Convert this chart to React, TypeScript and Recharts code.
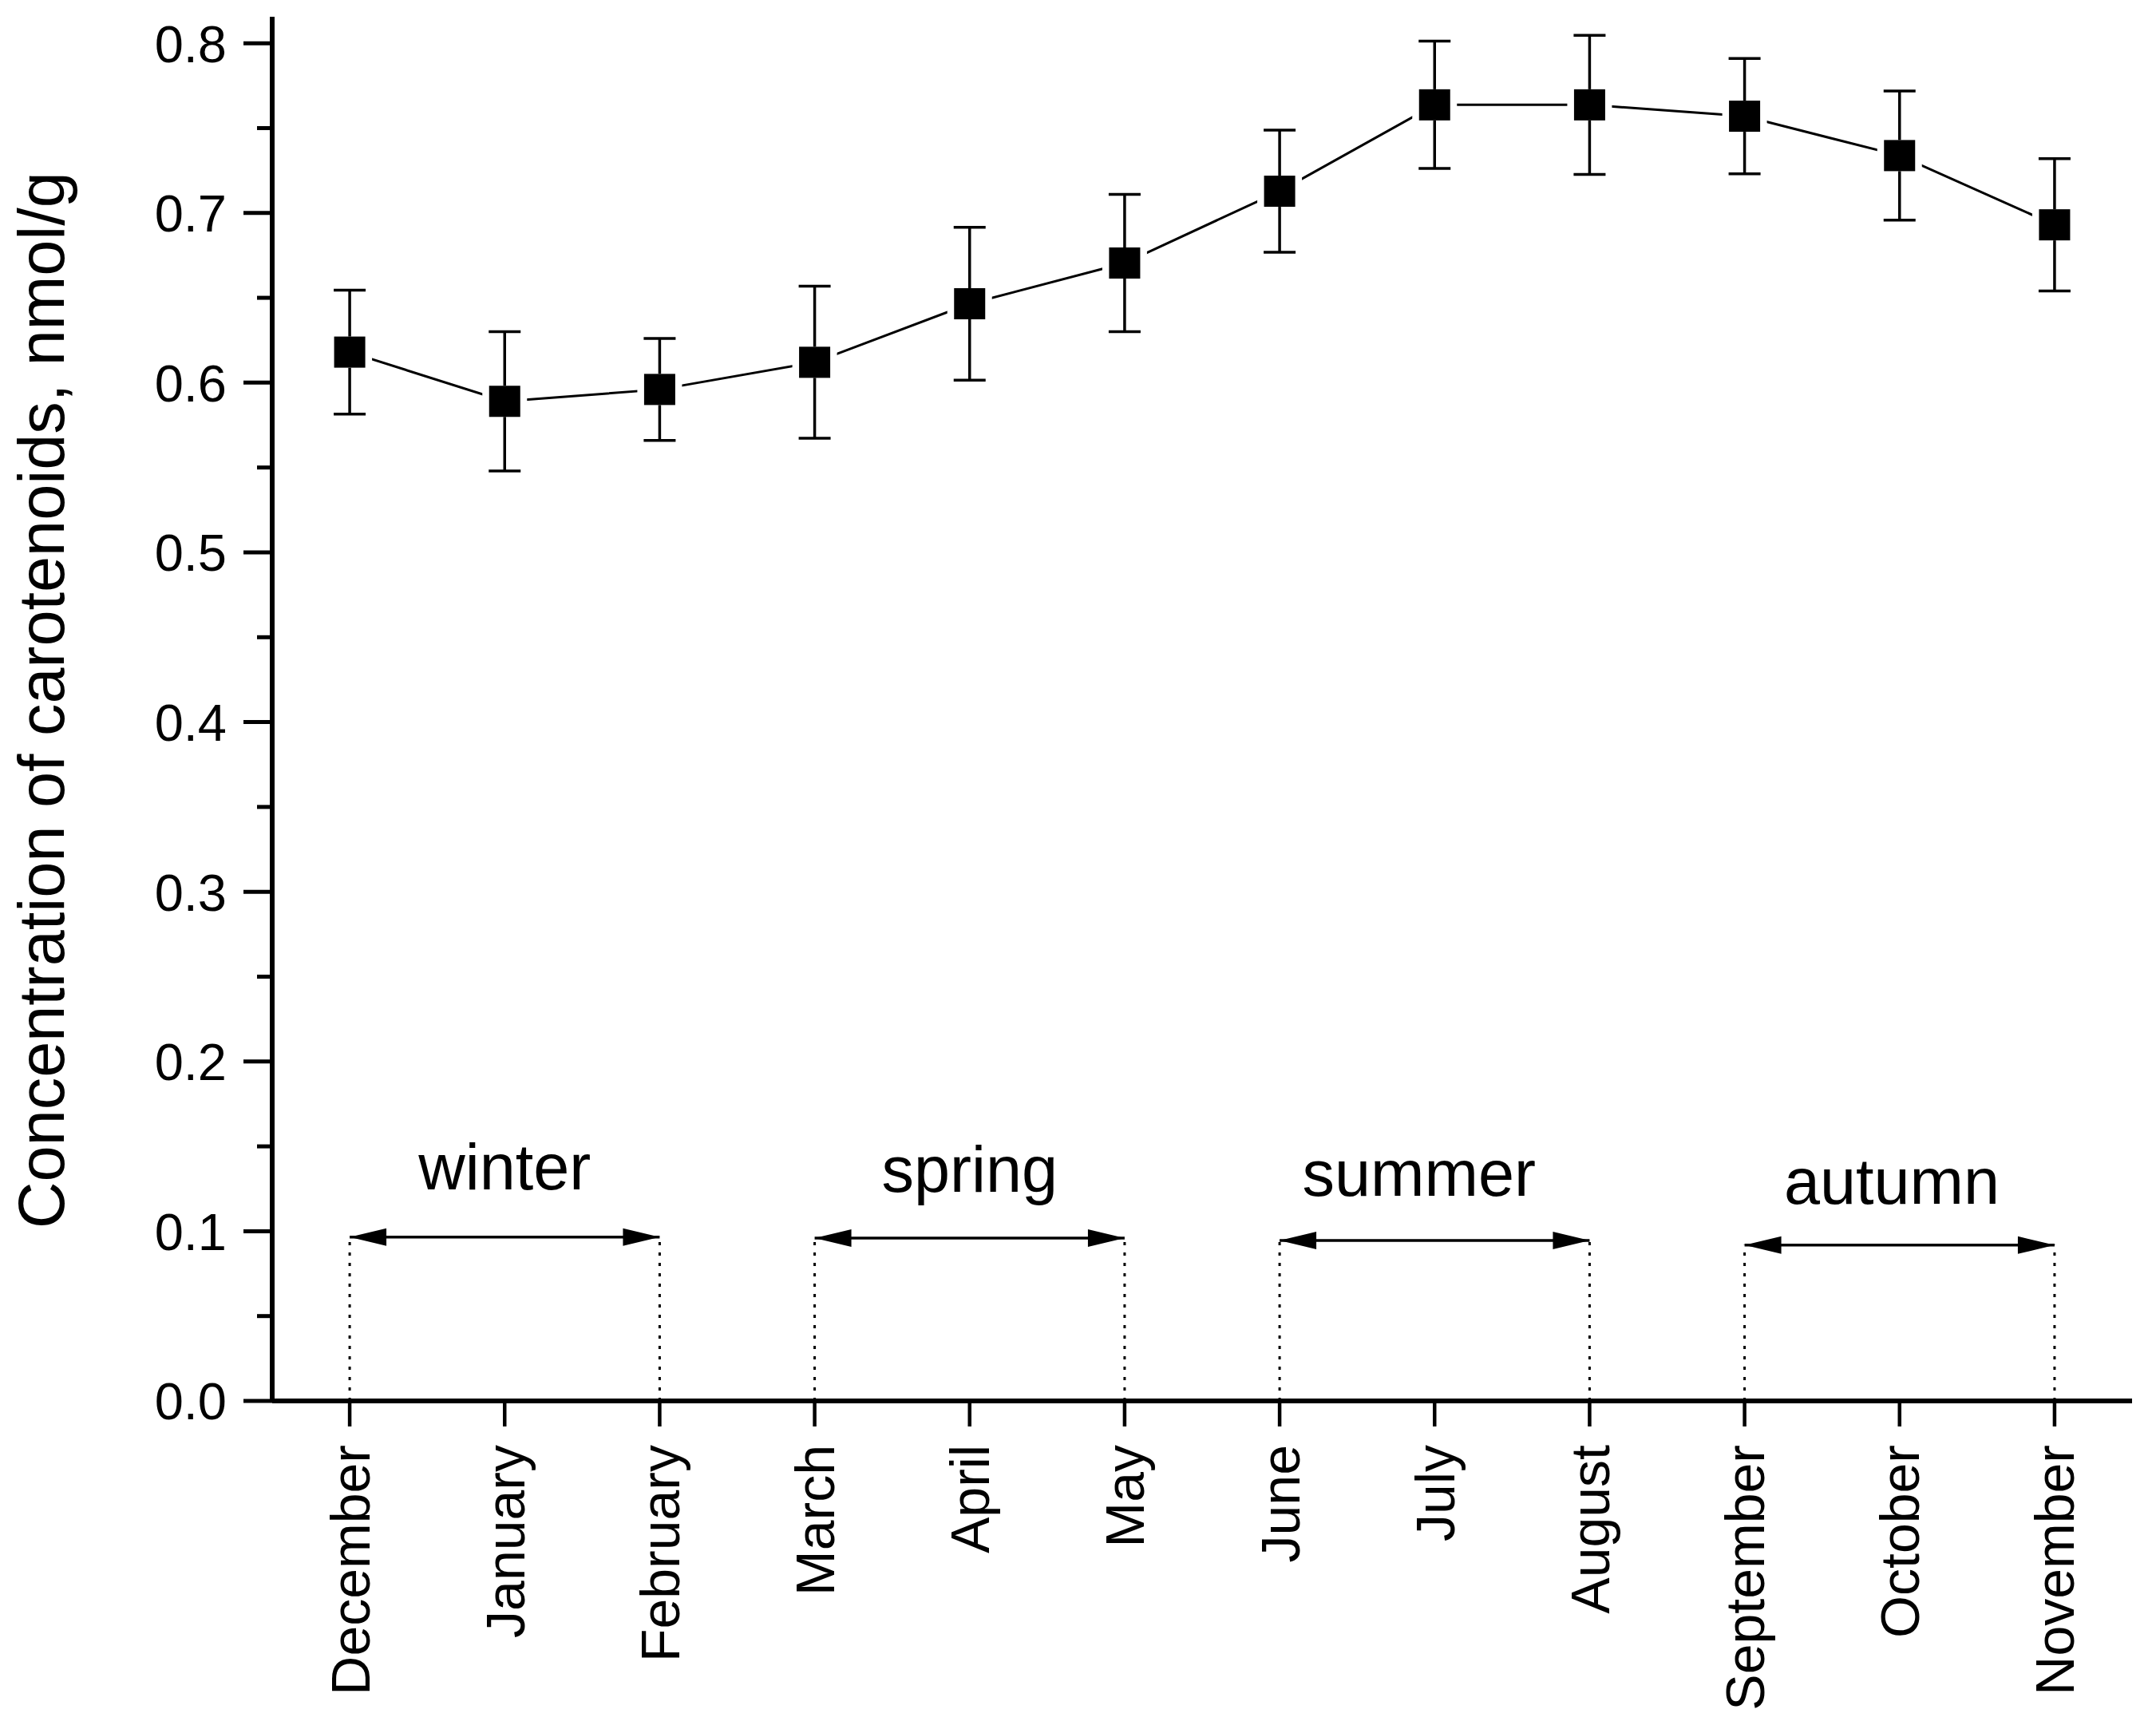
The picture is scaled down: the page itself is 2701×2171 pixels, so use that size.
import { ComposedChart, ErrorBar, Label, Line, Scatter, XAxis, YAxis } from 'recharts';

const MONTHS = ['December', 'January', 'February', 'March', 'April', 'May', 'June', 'July', 'August', 'September', 'October', 'November'];
const VALUES = [0.618, 0.589, 0.596, 0.612, 0.6465, 0.6705, 0.7128, 0.7637, 0.7637, 0.757, 0.7338, 0.693];
const ERRORS = [0.0365, 0.041, 0.03, 0.0448, 0.045, 0.0405, 0.036, 0.0375, 0.041, 0.034, 0.038, 0.039];

const Y_TICKS = [0, 0.05, 0.1, 0.15, 0.2, 0.25, 0.3, 0.35, 0.4, 0.45, 0.5, 0.55, 0.6, 0.65, 0.7, 0.75, 0.8];
const X_TICKS = [0, 1, 2, 3, 4, 5, 6, 7, 8, 9, 10, 11];

const SEASONS = ['winter', 'spring', 'summer', 'autumn'];
const SEASON_START = [0, 3, 6, 9];
const SEASON_END = [2, 5, 8, 11];
const ARROW_Y = [0.0965, 0.096, 0.0945, 0.0918];
const LABEL_X = [1, 4, 6.9, 9.95];
const LABEL_Y = [0.1247, 0.1233, 0.121, 0.1162];

const Y_TITLE = 'Concentration of carotenoids, nmol/g';
const FONT = '"Liberation Sans", Arial, sans-serif';

const data = MONTHS.map((m, i) => ({ x: i, name: m, value: VALUES[i], err: ERRORS[i] }));
const labels = SEASONS.map((s, i) => ({ x: LABEL_X[i], y: LABEL_Y[i], name: s }));

function YTick(props: any) {
  const { x, y, payload } = props;
  const v = payload.value;
  const major = Math.round(v * 100) % 10 === 0;
  return (
    <g>
      <line x1={x} x2={x - (major ? 36 : 19)} y1={y} y2={y} stroke="#000" strokeWidth={5} />
      {major && (
        <text x={x - 57} y={y} dy="0.36em" textAnchor="end" fontSize={65} fontFamily={FONT} fill="#000">
          {v.toFixed(1)}
        </text>
      )}
    </g>
  );
}

function XTick(props: any) {
  const { x, y, payload } = props;
  const ty = y + 21;
  return (
    <text x={x} y={ty} dy="0.36em" textAnchor="end" fontSize={68} fontFamily={FONT} fill="#000" transform={`rotate(-90 ${x} ${ty})`}>
      {MONTHS[payload.value]}
    </text>
  );
}

function Marker(props: any) {
  const { cx, cy } = props;
  if (cx == null || cy == null) return null;
  return (
    <g>
      <rect x={cx - 28} y={cy - 19.5} width={56} height={39} fill="#fff" />
      <rect x={cx - 19.5} y={cy - 19.5} width={39} height={39} fill="#000" />
    </g>
  );
}

function SeasonText(props: any) {
  const { cx, cy, payload } = props;
  return (
    <text x={cx} y={cy} textAnchor="middle" fontSize={81} fontFamily={FONT} fill="#000">
      {payload.name}
    </text>
  );
}

function arrowHead(props: any) {
  const { cx, cy, index } = props;
  const d = index === 0 ? 46 : -46;
  return <path key={`ah-${index}`} d={`M${cx},${cy} L${cx + d},${cy - 11} L${cx + d},${cy + 11} Z`} fill="#000" />;
}

export default function App() {
  return (
    <div style={{ width: 2701, height: 2171, background: '#fff' }}>
      <style>{'body{margin:0}'}</style>
      <ComposedChart width={2701} height={2171} data={data} margin={{ top: 21, right: 30, left: 0, bottom: 0 }}>
        <XAxis
          type="number"
          dataKey="x"
          domain={[-0.5, 11.5]}
          ticks={X_TICKS}
          interval={0}
          height={416}
          tickSize={32}
          tickMargin={2}
          axisLine={{ stroke: '#000', strokeWidth: 6 }}
          tickLine={{ stroke: '#000', strokeWidth: 4.5 }}
          tick={(p: any) => <XTick {...p} />}
        />
        <YAxis
          type="number"
          domain={[0, 0.8156]}
          ticks={Y_TICKS}
          interval={0}
          width={341}
          tickSize={0}
          tickMargin={0}
          tickLine={false}
          axisLine={{ stroke: '#000', strokeWidth: 6 }}
          tick={(p: any) => <YTick {...p} />}
        >
          <Label
            value={Y_TITLE}
            content={() => (
              <text x={80} y={877} textAnchor="middle" fontSize={81} fontFamily={FONT} fill="#000" transform="rotate(-90 80 877)">
                {Y_TITLE}
              </text>
            )}
          />
        </YAxis>

        {SEASONS.map((s, i) => (
          <Line
            key={`dl-${s}`}
            data={[
              { x: SEASON_START[i], y: 0 },
              { x: SEASON_START[i], y: ARROW_Y[i] },
            ]}
            dataKey="y"
            stroke="#000"
            strokeWidth={3}
            strokeDasharray="4 9"
            dot={false}
            activeDot={false}
            isAnimationActive={false}
          />
        ))}
        {SEASONS.map((s, i) => (
          <Line
            key={`dr-${s}`}
            data={[
              { x: SEASON_END[i], y: 0 },
              { x: SEASON_END[i], y: ARROW_Y[i] },
            ]}
            dataKey="y"
            stroke="#000"
            strokeWidth={3}
            strokeDasharray="4 9"
            dot={false}
            activeDot={false}
            isAnimationActive={false}
          />
        ))}
        {SEASONS.map((s, i) => (
          <Line
            key={`ar-${s}`}
            data={[
              { x: SEASON_START[i], y: ARROW_Y[i] },
              { x: SEASON_END[i], y: ARROW_Y[i] },
            ]}
            dataKey="y"
            stroke="#000"
            strokeWidth={3.5}
            dot={arrowHead}
            activeDot={false}
            isAnimationActive={false}
          />
        ))}

        <Line dataKey="value" stroke="#000" strokeWidth={3} dot={false} activeDot={false} isAnimationActive={false} />
        <Scatter dataKey="value" shape={(p: any) => <Marker {...p} />} isAnimationActive={false}>
          <ErrorBar dataKey="err" direction="y" width={20} stroke="#000" strokeWidth={3.5} />
        </Scatter>
        <Scatter data={labels} dataKey="y" shape={(p: any) => <SeasonText {...p} />} isAnimationActive={false} />
      </ComposedChart>
    </div>
  );
}
